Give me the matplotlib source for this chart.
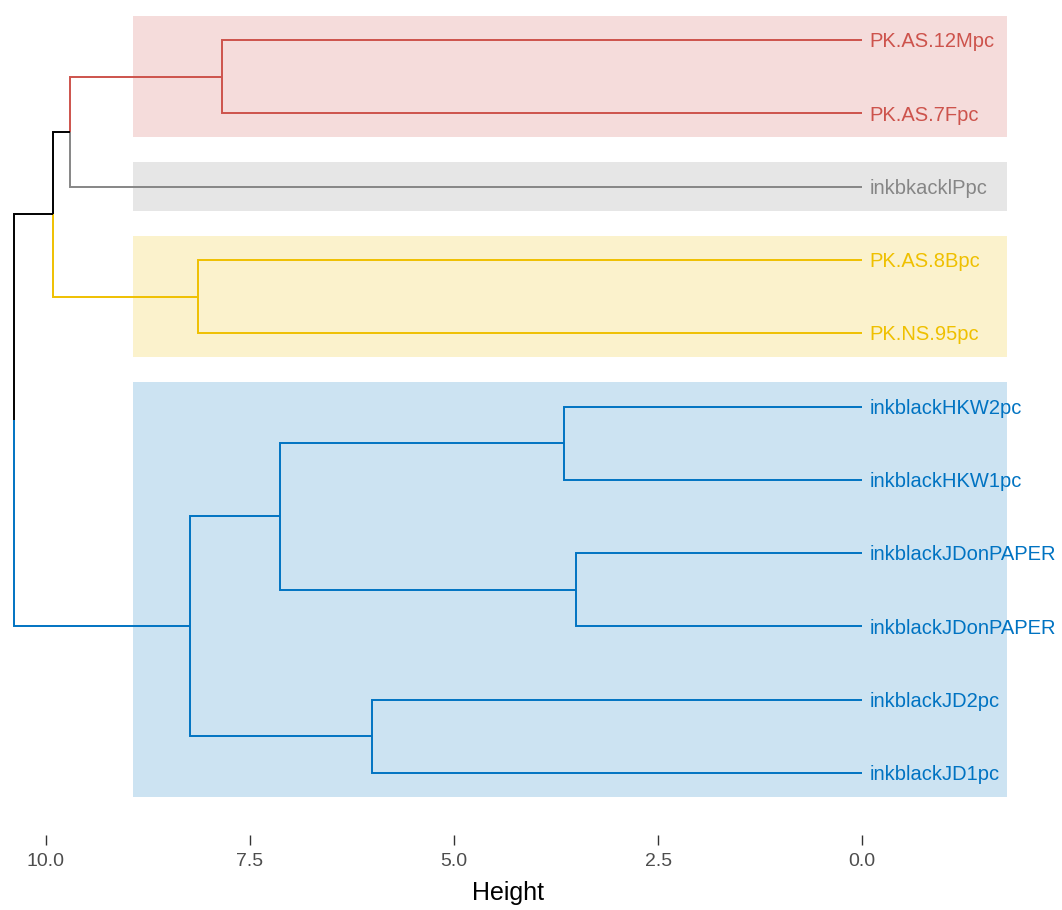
import matplotlib
matplotlib.use("Agg")
import matplotlib.pyplot as plt
from matplotlib.patches import Rectangle

# ---------------- data ----------------
leaf_labels = ["PK.AS.12Mpc", "PK.AS.7Fpc", "inkbkacklPpc", "PK.AS.8Bpc", "PK.NS.95pc",
               "inkblackHKW2pc", "inkblackHKW1pc", "inkblackJDonPAPER", "inkblackJDonPAPER",
               "inkblackJD2pc", "inkblackJD1pc"]
leaf_cluster = [0, 0, 1, 2, 2, 3, 3, 3, 3, 3, 3]
# merges: (left, right, height); negative ints = leaf index (-(i+1)), positive = merge number (1-based)
merge_left = [-1, 1, -4, 2, -6, -8, 5, -10, 7, 4]
merge_right = [-2, -3, -5, 3, -7, -9, 6, -11, 8, 9]
merge_height = [7.84, 9.70, 8.13, 9.91, 3.65, 3.50, 7.13, 6.00, 8.23, 10.39]
cluster_colors = ["#CD534C", "#868686", "#EFC000", "#0073C2"]
xticks = [10.0, 7.5, 5.0, 2.5, 0.0]
xlabel = "Height"

# ---------------- figure ----------------
W, H = 1062, 910
fig = plt.figure(figsize=(W / 100, H / 100), dpi=100)
panel_bottom = 835
ax = fig.add_axes([0, 1 - panel_bottom / H, 1, panel_bottom / H])

px_per_unit = 81.66
x0 = 862.3
leaf_top = 40.0
leaf_step = 73.3
ax.set_xlim((x0 - 0) / px_per_unit, (x0 - W) / px_per_unit)
ax.set_ylim((panel_bottom - leaf_top) / leaf_step, -leaf_top / leaf_step)

# node positions
n = len(merge_height)
pos = {}
hgt = {}
members = {}
for i in range(len(leaf_labels)):
    pos[-(i + 1)] = float(i)
    hgt[-(i + 1)] = 0.0
    members[-(i + 1)] = {i}
for k in range(n):
    l, r = merge_left[k], merge_right[k]
    pos[k + 1] = (pos[l] + pos[r]) / 2
    hgt[k + 1] = merge_height[k]
    members[k + 1] = members[l] | members[r]


def node_color(node):
    cl = {leaf_cluster[i] for i in members[node]}
    if len(cl) == 1:
        return cluster_colors[cl.pop()]
    return "black"


# rectangles
for c, col in enumerate(cluster_colors):
    idx = [i for i, cc in enumerate(leaf_cluster) if cc == c]
    y0 = min(idx) - 0.33
    y1 = max(idx) + 0.33
    ax.add_patch(Rectangle((8.93, y0), -1.77 - 8.93, y1 - y0, facecolor=col, alpha=0.2,
                           edgecolor="none", zorder=0))

# segments
for k in range(n):
    node = k + 1
    Hp = hgt[node]
    yp = pos[node]
    for ch in (merge_left[k], merge_right[k]):
        col = node_color(ch)
        ax.plot([Hp, Hp, hgt[ch]], [yp, pos[ch], pos[ch]], color=col, lw=1.4,
                solid_capstyle="butt", solid_joinstyle="miter", zorder=2)

# leaf labels
for i, lab in enumerate(leaf_labels):
    ax.annotate(lab, xy=(0, i), xytext=(5.2, -5.2), textcoords="offset points",
                ha="left", va="baseline", color=cluster_colors[leaf_cluster[i]],
                fontsize=14.5, family="Liberation Sans", annotation_clip=False)

# axes styling
for s in ax.spines.values():
    s.set_visible(False)
ax.set_yticks([])
ax.set_xticks(xticks)
ax.set_xticklabels([f"{t:.1f}" for t in xticks], family="Liberation Sans", fontsize=14,
                   color="#4D4D4D")
ax.tick_params(axis="x", length=7.2, width=1.0, color="#333333", pad=5.5)
ax.patch.set_alpha(0)

fig.text(508 / W, 1 - 893 / H, xlabel, ha="center", va="center", fontsize=18,
         family="Liberation Sans", color="black")

fig.savefig("out.png", dpi=100)
